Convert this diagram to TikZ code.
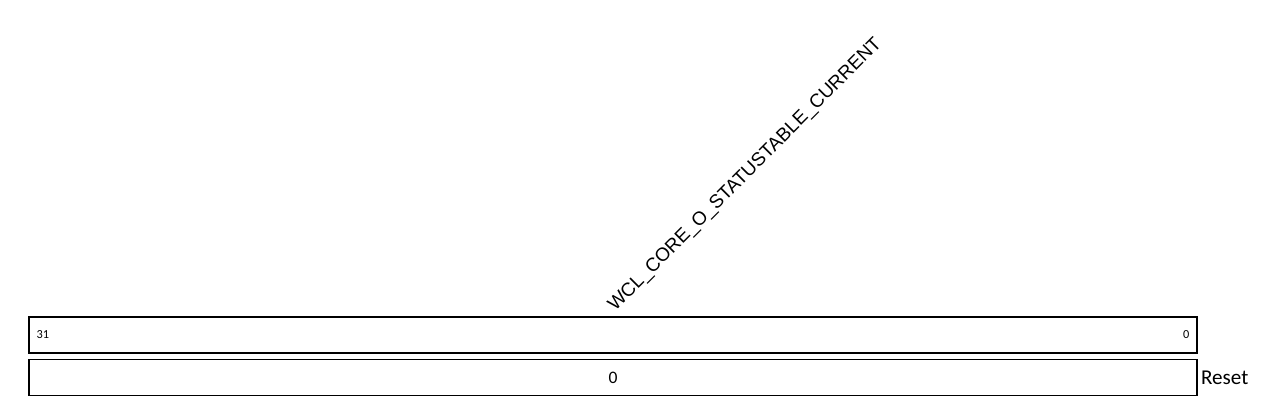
\documentclass[tikz,border=0pt]{standalone}
\usepackage{fontspec}
\setmainfont{Carlito}
\newfontfamily\labelfont{Liberation Sans}
\usetikzlibrary{positioning}

\begin{document}
\begin{tikzpicture}[
        field/.style={draw,line width=0.8pt,minimum width=23.36cm,minimum height=0.72cm,inner sep=0pt},
        bitnum/.style={font=\fontsize{7}{8}\selectfont,inner sep=0pt},
        fieldname/.style={font=\labelfont\fontsize{10.8}{12}\selectfont,rotate=45,anchor=base west,inner sep=0pt}
      ]
        \useasboundingbox (0,0) rectangle (25.7,8.3);
        \node[field] (bits) at (12.26,1.60) {};
        \node[field,below=0.1cm of bits] (value) {};
        \node[bitnum,anchor=west] (msb) at ([xshift=0.16cm]bits.west) {31};
        \node[bitnum,anchor=east] (lsb) at ([xshift=-0.16cm]bits.east) {0};
        \node[font=\fontsize{10}{11}\selectfont,inner sep=0pt] (reset) at (value.center) {0};
        \node[font=\fontsize{12}{13}\selectfont,right=0.06cm of value,inner sep=0pt] (resetlabel) {Reset};
        \node[fieldname] (name) at (12.3,2.06) {WCL\_CORE\_O\_STATUSTABLE\_CURRENT};
      \end{tikzpicture}
\end{document}
